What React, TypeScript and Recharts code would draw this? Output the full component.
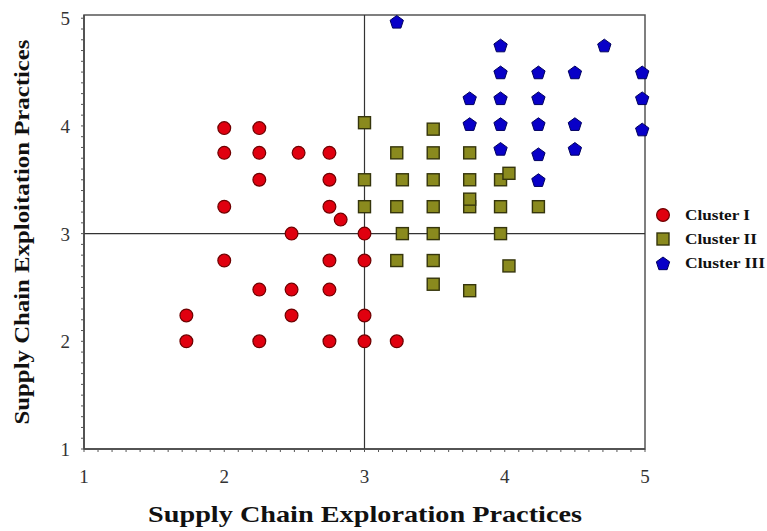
import React from "react";
import {
  ScatterChart,
  Scatter,
  XAxis,
  YAxis,
  ReferenceLine,
  ReferenceArea,
  Label,
} from "recharts";

type Pt = { x: number; y: number };

const CLUSTER_I: Pt[] = [
  { x: 2, y: 3.98 }, { x: 2.25, y: 3.98 },
  { x: 2, y: 3.75 }, { x: 2.25, y: 3.75 }, { x: 2.53, y: 3.75 }, { x: 2.75, y: 3.75 },
  { x: 2.25, y: 3.5 }, { x: 2.75, y: 3.5 },
  { x: 2, y: 3.25 }, { x: 2.75, y: 3.25 }, { x: 2.83, y: 3.13 },
  { x: 2.48, y: 3 }, { x: 3, y: 3 },
  { x: 2, y: 2.75 }, { x: 2.75, y: 2.75 }, { x: 3, y: 2.75 },
  { x: 2.25, y: 2.48 }, { x: 2.48, y: 2.48 }, { x: 2.75, y: 2.48 },
  { x: 1.73, y: 2.24 }, { x: 2.48, y: 2.24 }, { x: 3, y: 2.24 },
  { x: 1.73, y: 2 }, { x: 2.25, y: 2 }, { x: 2.75, y: 2 }, { x: 3, y: 2 }, { x: 3.23, y: 2 },
];

const CLUSTER_II: Pt[] = [
  { x: 3, y: 4.03 }, { x: 3.49, y: 3.97 },
  { x: 3.23, y: 3.75 }, { x: 3.49, y: 3.75 }, { x: 3.75, y: 3.75 },
  { x: 3, y: 3.5 }, { x: 3.27, y: 3.5 }, { x: 3.49, y: 3.5 }, { x: 3.75, y: 3.5 }, { x: 3.97, y: 3.5 }, { x: 4.03, y: 3.56 },
  { x: 3, y: 3.25 }, { x: 3.23, y: 3.25 }, { x: 3.49, y: 3.25 }, { x: 3.75, y: 3.25 }, { x: 3.75, y: 3.32 }, { x: 3.97, y: 3.25 }, { x: 4.24, y: 3.25 },
  { x: 3.27, y: 3 }, { x: 3.49, y: 3 }, { x: 3.97, y: 3 },
  { x: 3.23, y: 2.75 }, { x: 3.49, y: 2.75 }, { x: 4.03, y: 2.7 },
  { x: 3.49, y: 2.53 }, { x: 3.75, y: 2.47 },
];

const CLUSTER_III: Pt[] = [
  { x: 3.23, y: 4.97 },
  { x: 3.97, y: 4.75 }, { x: 4.71, y: 4.75 },
  { x: 3.97, y: 4.5 }, { x: 4.24, y: 4.5 }, { x: 4.5, y: 4.5 }, { x: 4.98, y: 4.5 },
  { x: 3.75, y: 4.26 }, { x: 3.97, y: 4.26 }, { x: 4.24, y: 4.26 }, { x: 4.98, y: 4.26 },
  { x: 3.75, y: 4.02 }, { x: 3.97, y: 4.02 }, { x: 4.24, y: 4.02 }, { x: 4.5, y: 4.02 }, { x: 4.98, y: 3.97 },
  { x: 3.97, y: 3.79 }, { x: 4.24, y: 3.74 }, { x: 4.5, y: 3.79 },
  { x: 4.24, y: 3.5 },
];

const X_MAJOR = [1, 2, 3, 4, 5];
const Y_MAJOR = [1, 2, 3, 4, 5];
const MINOR_STEPS = Array.from({ length: 41 }, (_, i) => Math.round((1 + i * 0.1) * 10) / 10);
const Y_TOP = 5.03;

const X_TITLE = "Supply Chain Exploration Practices";
const Y_TITLE = "Supply Chain Exploitation Practices";

const SERIES = [
  { name: "Cluster I", data: CLUSTER_I, fill: "#e0000f", stroke: "#6e0000", shape: "circle", len: 65 },
  { name: "Cluster II", data: CLUSTER_II, fill: "#8a8a1e", stroke: "#35350c", shape: "square", len: 72 },
  { name: "Cluster III", data: CLUSTER_III, fill: "#0800c8", stroke: "#00005e", shape: "pentagon", len: 80 },
];

const SERIF = "'Liberation Serif', 'Times New Roman', serif";

function Marker({ kind, cx, cy, fill, stroke }: any) {
  if (kind === "circle") {
    return <circle cx={cx} cy={cy} r={6.4} fill={fill} stroke={stroke} strokeWidth={1.2} />;
  }
  if (kind === "square") {
    return <rect x={cx - 6} y={cy - 6} width={12} height={12} fill={fill} stroke={stroke} strokeWidth={1.4} />;
  }
  const r = 7;
  const pts = [0, 1, 2, 3, 4]
    .map((i) => {
      const a = -Math.PI / 2 + (i * 2 * Math.PI) / 5;
      return `${cx + r * Math.cos(a)},${cy + 1 + r * Math.sin(a)}`;
    })
    .join(" ");
  return <polygon points={pts} fill={fill} stroke={stroke} strokeWidth={1} />;
}

const XTick = (props: any) => {
  const { x, y, payload } = props;
  if (!X_MAJOR.includes(payload.value)) return <g />;
  return (
    <text x={x} y={y} dy={29} textAnchor="middle" fontFamily={SERIF} fontSize={19} fill="#333">
      {payload.value}
    </text>
  );
};

const YTick = (props: any) => {
  const { x, y, payload } = props;
  if (!Y_MAJOR.includes(payload.value)) return <g />;
  return (
    <text x={x - 9} y={y} dy={7} textAnchor="end" fontFamily={SERIF} fontSize={19} fill="#333">
      {payload.value}
    </text>
  );
};

function LegendBox() {
  return (
    <svg width={117} height={70} style={{ position: "absolute", left: 650, top: 203 }}>
      {SERIES.map((s, i) => (
        <g key={s.name}>
          <Marker kind={s.shape} cx={13} cy={12 + i * 24} fill={s.fill} stroke={s.stroke} />
          <text
            x={35}
            y={17 + i * 24}
            fontFamily={SERIF}
            fontWeight="bold"
            fontSize={14}
            fill="#111"
            textLength={s.len}
            lengthAdjust="spacingAndGlyphs"
          >
            {s.name}
          </text>
        </g>
      ))}
    </svg>
  );
}

export default function App() {
  return (
    <div style={{ position: "absolute", left: 0, top: 0, width: 767, height: 531, background: "#fff" }}>
      <ScatterChart width={767} height={531} margin={{ top: 15, right: 122, bottom: 0, left: 0 }}>
        <XAxis
          type="number"
          dataKey="x"
          domain={[1, 5]}
          ticks={MINOR_STEPS}
          interval={0}
          tick={<XTick />}
          tickSize={3}
          tickLine={{ stroke: "#555" }}
          axisLine={{ stroke: "#444", strokeWidth: 1.5 }}
          height={82}
        >
          <Label
            content={() => (
              <text
                x={365}
                y={522}
                textAnchor="middle"
                fontFamily={SERIF}
                fontWeight="bold"
                fontSize={23}
                fill="#111"
                textLength={434}
                lengthAdjust="spacingAndGlyphs"
              >
                {X_TITLE}
              </text>
            )}
          />
        </XAxis>
        <YAxis
          type="number"
          dataKey="y"
          domain={[1, Y_TOP]}
          ticks={MINOR_STEPS}
          interval={0}
          tick={<YTick />}
          tickSize={3}
          tickLine={{ stroke: "#555" }}
          axisLine={{ stroke: "#444", strokeWidth: 1.5 }}
          width={84}
        >
          <Label
            content={() => (
              <text
                x={0}
                y={0}
                transform="translate(29 232) rotate(-90)"
                textAnchor="middle"
                fontFamily={SERIF}
                fontWeight="bold"
                fontSize={22}
                fill="#111"
                textLength={385}
                lengthAdjust="spacingAndGlyphs"
              >
                {Y_TITLE}
              </text>
            )}
          />
        </YAxis>
        <ReferenceArea x1={1} x2={5} y1={1} y2={Y_TOP} fill="none" stroke="#555" strokeWidth={1.5} />
        <ReferenceLine x={3} stroke="#333" strokeWidth={1.2} />
        <ReferenceLine y={3} stroke="#333" strokeWidth={1.2} />
        {SERIES.map((s) => (
          <Scatter
            key={s.name}
            name={s.name}
            data={s.data}
            isAnimationActive={false}
            shape={(p: any) => <Marker kind={s.shape} cx={p.cx} cy={p.cy} fill={s.fill} stroke={s.stroke} />}
          />
        ))}
      </ScatterChart>
      <LegendBox />
    </div>
  );
}
